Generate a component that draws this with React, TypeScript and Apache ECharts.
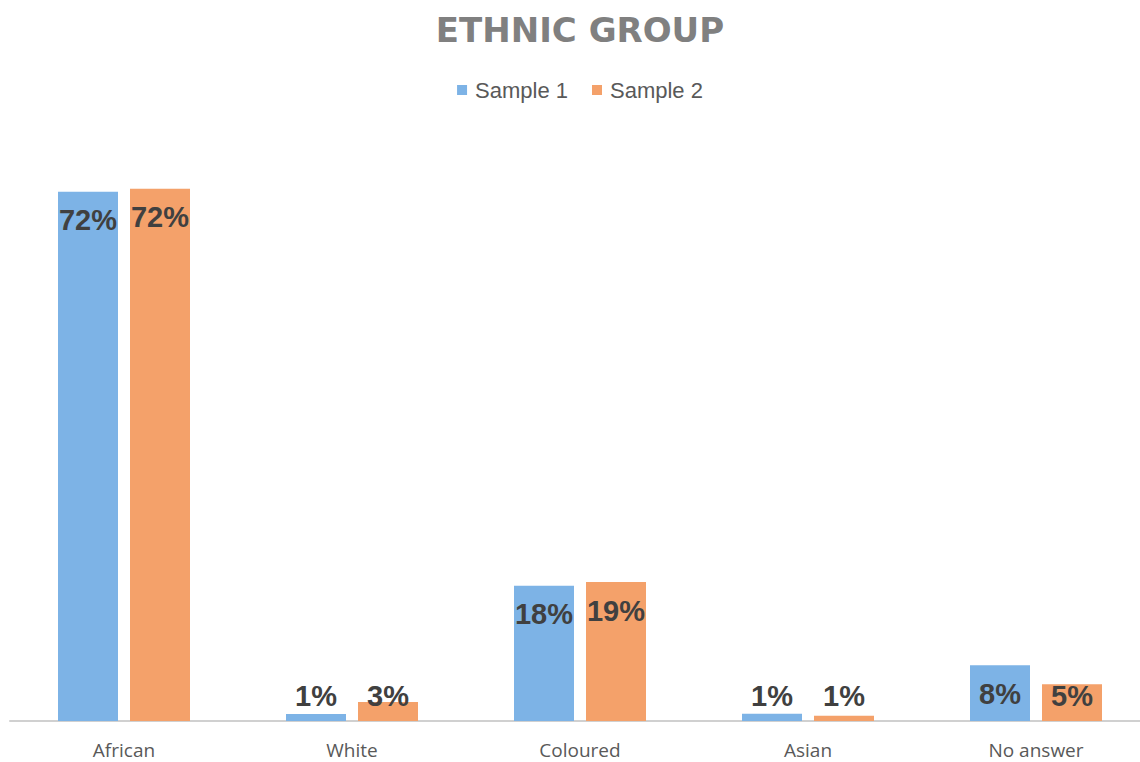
import React, { useEffect, useRef } from "react";
import * as echarts from "echarts";

const categories = ["African", "White", "Coloured", "Asian", "No answer"];
const sample1 = [72, 0.95, 18.4, 1, 7.6];
const sample2 = [72.4, 2.6, 18.9, 0.7, 5];
const seriesNames = ["Sample 1", "Sample 2"];

const BLUE = "#7db3e6";
const ORANGE = "#f4a16a";

function buildData(values: number[]) {
  return values.map((v) => ({
    value: v,
    label: {
      position: v >= 7 ? "insideTop" : "insideBottom",
      distance: v >= 7 ? 14 : 11,
    },
  }));
}

export default function App() {
  const ref = useRef<HTMLDivElement>(null);
  useEffect(() => {
    if (!ref.current) return;
    const chart = echarts.init(ref.current, undefined, { renderer: "svg" });
    const label = {
      show: true,
      formatter: (p: any) => Math.round(p.value) + "%",
      color: "#404040",
      fontSize: 29,
      fontWeight: "bold",
      fontFamily: "Liberation Sans, Arial, sans-serif",
    };
    chart.setOption({
      animation: false,
      backgroundColor: "#ffffff",
      title: {
        text: "ETHNIC GROUP",
        left: "center",
        top: 8,
        textStyle: {
          color: "#808080",
          fontSize: 34,
          fontWeight: "bold",
          fontFamily: "DejaVu Sans, sans-serif",
        },
      },
      legend: {
        data: seriesNames,
        top: 74,
        left: "center",
        itemWidth: 10,
        itemHeight: 10,
        itemGap: 24,
        icon: "rect",
        textStyle: {
          color: "#595959",
          fontSize: 22,
          padding: [0, 0, 0, 3],
          fontFamily: "Liberation Sans, Arial, sans-serif",
        },
      },
      grid: { left: 10, right: 10, top: 133, bottom: 41, containLabel: false },
      xAxis: {
        type: "category",
        data: categories,
        axisLine: { lineStyle: { color: "#d0d0d0", width: 2 } },
        axisTick: { show: false },
        axisLabel: {
          color: "#595959",
          fontSize: 19,
          margin: 19,
          fontFamily: "Open Sans, sans-serif",
        },
      },
      yAxis: {
        type: "value",
        min: 0,
        max: 80,
        show: false,
        splitLine: { show: false },
      },
      series: [
        {
          name: seriesNames[0],
          type: "bar",
          data: buildData(sample1),
          barWidth: 60,
          barGap: "20%",
          itemStyle: { color: BLUE },
          label,
        },
        {
          name: seriesNames[1],
          type: "bar",
          data: buildData(sample2),
          barWidth: 60,
          barGap: "20%",
          itemStyle: { color: ORANGE },
          label,
        },
      ],
    });
    return () => chart.dispose();
  }, []);
  return (
    <div
      style={{
        position: "absolute",
        left: 0,
        top: 0,
        width: 1140,
        height: 762,
        overflow: "hidden",
        background: "#ffffff",
      }}
    >
      <div ref={ref} style={{ width: 1160, height: 762 }} />
    </div>
  );
}
